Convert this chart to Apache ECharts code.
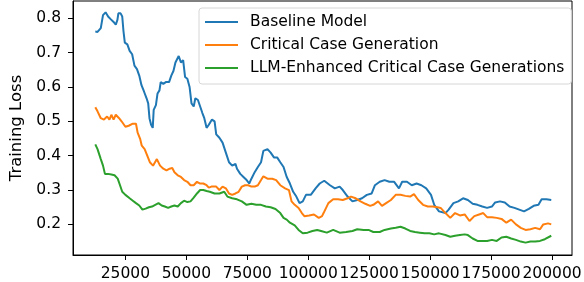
<!DOCTYPE html>
<html>
<head>
<meta charset="utf-8">
<script src="https://cdn.jsdelivr.net/npm/echarts@6/dist/echarts.min.js"></script>
<style>
html,body{margin:0;padding:0;background:#fff;}
#chart{width:584px;height:282px;}
</style>
</head>
<body>
<div id="chart"></div>
<script>
// ---- data ----
const seriesNames = ["Baseline Model", "Critical Case Generation", "LLM-Enhanced Critical Case Generations"];
const xTicks = [25000, 50000, 75000, 100000, 125000, 150000, 175000, 200000];
const yTicks = [0.2, 0.3, 0.4, 0.5, 0.6, 0.7, 0.8];

const baselineSteps = [12650,13560,14900,15810,16870,17900,18840,20150,21050,21720,22120,23030,23700,24210,24760,25790,26740,27760,28710,29740,30680,31590,32660,33680,34350,34870,35540,36210,36600,37510,38180,38970,39480,40550,41570,42910,43820,44730,45520,46860,47770,48680,49470,50410,51320,52110,53020,53690,54750,55660,56570,57360,58300,59210,60510,61580,62250,63550,64850,66200,67500,68800,70140,70770,72120,73420,74720,75790,76690,78030,79340,80640,81590,83280,84580,85930,87230,88530,89870,91170,92480,93820,95120,96420,97760,99070,101040,103010,104710,106560,108930,110900,112880,114180,116150,118130,120100,122070,124040,126020,127360,129330,131310,133280,135250,137220,138530,140500,142470,144450,146420,148390,150360,151670,153640,154310,156280,157590,159560,161530,163500,165480,167450,169420,171400,173370,175340,176680,178660,180630,182600,184580,186550,188520,190500,192470,194440,195740,197720,199690];
const baselineLoss = [0.761,0.760,0.771,0.809,0.817,0.805,0.798,0.789,0.781,0.795,0.814,0.814,0.805,0.762,0.729,0.724,0.705,0.695,0.662,0.652,0.633,0.605,0.586,0.567,0.552,0.509,0.490,0.481,0.533,0.547,0.581,0.590,0.614,0.609,0.614,0.614,0.633,0.647,0.671,0.690,0.671,0.678,0.629,0.624,0.600,0.552,0.543,0.567,0.562,0.543,0.524,0.509,0.481,0.490,0.505,0.500,0.462,0.452,0.438,0.409,0.381,0.371,0.376,0.362,0.347,0.338,0.329,0.319,0.333,0.352,0.367,0.381,0.414,0.419,0.409,0.395,0.395,0.381,0.367,0.338,0.319,0.295,0.281,0.262,0.267,0.286,0.286,0.305,0.319,0.327,0.314,0.305,0.310,0.300,0.281,0.267,0.271,0.276,0.286,0.290,0.314,0.324,0.329,0.324,0.324,0.305,0.324,0.324,0.314,0.319,0.314,0.305,0.286,0.257,0.238,0.243,0.233,0.243,0.262,0.267,0.276,0.271,0.260,0.257,0.252,0.248,0.252,0.264,0.267,0.264,0.252,0.248,0.243,0.238,0.245,0.254,0.257,0.273,0.273,0.271];

const criticalSteps = [12650,13560,14900,16200,17500,18450,19240,20150,21050,22400,23420,25000,26340,28040,29340,30010,31080,31710,32890,33960,35020,36330,37900,39210,40550,41850,43150,44220,45120,46470,47770,49070,50410,51710,53020,54360,55660,56960,58300,59210,60280,62250,63550,64850,66200,67500,68800,70140,71440,72750,74090,75390,76690,78030,79340,80640,81590,83280,85260,86830,88530,90500,92080,93150,94450,96030,97370,98400,100370,102340,104320,105660,106290,108260,110230,112210,114180,116150,117490,119470,121440,123410,125390,126690,128660,130240,131940,133910,135880,137860,139830,141800,143380,145120,147090,149060,151040,153010,154310,156280,158260,160230,162200,164180,166150,168120,170090,171790,173370,175340,177320,179290,181260,183230,185210,187180,189150,191130,193100,195070,196410,198390,199690];
const criticalLoss = [0.541,0.529,0.509,0.505,0.514,0.505,0.519,0.505,0.519,0.509,0.500,0.484,0.487,0.493,0.493,0.467,0.448,0.429,0.419,0.400,0.381,0.371,0.390,0.371,0.362,0.357,0.362,0.364,0.352,0.343,0.338,0.329,0.324,0.314,0.314,0.324,0.319,0.319,0.314,0.307,0.310,0.310,0.300,0.310,0.305,0.290,0.286,0.290,0.295,0.310,0.314,0.314,0.310,0.310,0.314,0.329,0.340,0.333,0.333,0.329,0.314,0.305,0.300,0.267,0.257,0.248,0.233,0.224,0.226,0.229,0.219,0.224,0.233,0.262,0.273,0.273,0.271,0.276,0.281,0.276,0.267,0.260,0.254,0.257,0.267,0.254,0.262,0.271,0.286,0.286,0.283,0.281,0.288,0.271,0.257,0.252,0.252,0.250,0.248,0.233,0.219,0.233,0.226,0.229,0.210,0.224,0.229,0.233,0.221,0.221,0.219,0.216,0.205,0.214,0.200,0.190,0.184,0.186,0.190,0.186,0.200,0.203,0.200];

const llmSteps = [12650,13560,14900,15810,16600,17900,19240,20540,21840,22790,23700,25000,26740,28040,29340,30680,31980,33290,34630,35930,37230,38570,39880,41180,42520,43820,45120,46470,47770,49070,50410,51710,53020,54360,55660,56960,58300,59610,61580,63550,65530,66830,68800,70770,72750,74720,76690,78670,80640,82610,84580,86560,88530,89870,91170,92480,94450,96030,97760,99740,101710,103680,105260,107630,110230,112880,115520,118130,120100,122740,124720,126690,129330,131310,133910,135880,137860,139830,141800,143770,145750,147720,149690,151670,153640,156280,158260,160230,162200,164180,165480,167450,169420,171400,173370,175340,177320,179290,181260,183230,185210,187180,189150,191130,193100,195070,197050,199690];
const llmLoss = [0.433,0.419,0.390,0.371,0.347,0.347,0.345,0.343,0.333,0.314,0.295,0.286,0.276,0.269,0.262,0.255,0.243,0.246,0.250,0.252,0.257,0.262,0.255,0.252,0.248,0.252,0.255,0.252,0.262,0.269,0.265,0.267,0.278,0.290,0.300,0.300,0.297,0.295,0.290,0.290,0.295,0.281,0.276,0.273,0.267,0.257,0.260,0.257,0.257,0.252,0.250,0.245,0.233,0.219,0.214,0.205,0.197,0.184,0.174,0.176,0.181,0.184,0.181,0.176,0.184,0.176,0.178,0.181,0.186,0.184,0.184,0.178,0.178,0.184,0.188,0.190,0.193,0.188,0.181,0.178,0.176,0.174,0.174,0.171,0.174,0.169,0.164,0.167,0.169,0.171,0.169,0.159,0.152,0.152,0.152,0.155,0.152,0.162,0.164,0.159,0.155,0.150,0.147,0.150,0.150,0.152,0.157,0.167];

const colors = ["#1f77b4", "#ff7f0e", "#2ca02c"];

// ---- build chart ----
function pairs(xs, ys) { return xs.map((x, i) => [x, ys[i]]); }
const allSteps = [baselineSteps, criticalSteps, llmSteps];
const allLoss = [baselineLoss, criticalLoss, llmLoss];

const FONT = "DejaVu Sans";
const FS = 15.5;
const chart = echarts.init(document.getElementById("chart"), null, { renderer: "canvas" });
chart.setOption({
  animation: false,
  backgroundColor: "#fff",
  grid: { left: 58, right: 9, top: 1, bottom: 23, show: true, borderColor: "#000", borderWidth: 1, containLabel: false },
  legend: {
    orient: "vertical",
    left: 199, top: 8,
    padding: [6, 7, 8, 6],
    itemGap: 7,
    itemWidth: 33, itemHeight: 2,
    icon: "rect",
    backgroundColor: "#fff",
    borderColor: "#d6d6d6", borderWidth: 1, borderRadius: 3,
    textStyle: { fontFamily: FONT, fontSize: FS, color: "#000", lineHeight: 15.5, padding: [0, 0, 0, 7] },
    data: seriesNames
  },
  xAxis: {
    type: "value", min: 3500, max: 208200,
    axisLine: { show: true, lineStyle: { color: "#000", width: 1 } },
    axisTick: { show: true, inside: false, length: 5, lineStyle: { color: "#000", width: 1 }, customValues: xTicks },
    axisLabel: { fontFamily: FONT, fontSize: FS, color: "#000", margin: 11, customValues: xTicks, formatter: v => String(v) },
    splitLine: { show: false }
  },
  yAxis: {
    type: "value", min: 0.111, max: 0.850,
    name: "Training Loss", nameLocation: "middle", nameGap: 48,
    nameTextStyle: { fontFamily: FONT, fontSize: 16.5, color: "#000" },
    axisLine: { show: true, lineStyle: { color: "#000", width: 1 } },
    axisTick: { show: true, inside: false, length: 5, lineStyle: { color: "#000", width: 1 }, customValues: yTicks },
    axisLabel: { fontFamily: FONT, fontSize: FS, color: "#000", margin: 12, customValues: yTicks, formatter: v => v.toFixed(1) },
    splitLine: { show: false }
  },
  series: seriesNames.map((name, i) => ({
    name: name, type: "line", showSymbol: false, symbol: "none",
    data: pairs(allSteps[i], allLoss[i]),
    color: colors[i],
    lineStyle: { color: colors[i], width: 2 },
    clip: true
  }))
});
</script>
</body>
</html>
